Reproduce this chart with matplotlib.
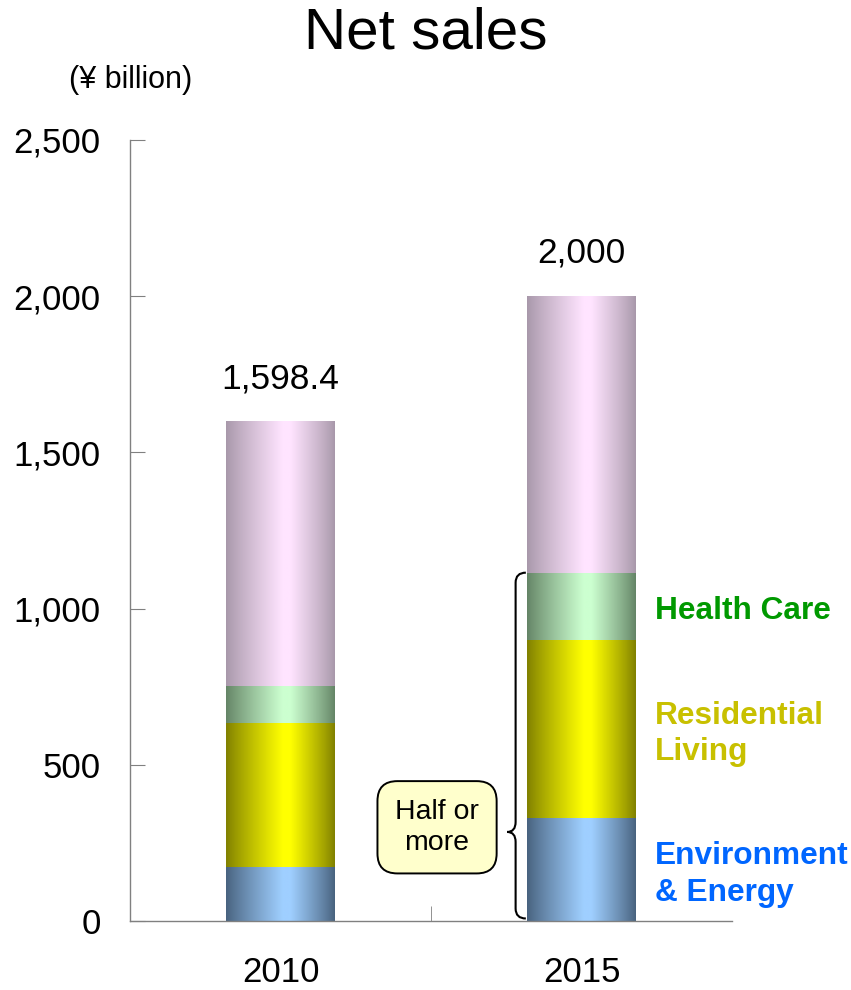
import numpy as np
import matplotlib.pyplot as plt
from matplotlib.path import Path
from matplotlib.patches import PathPatch
from matplotlib.colors import to_rgb

plt.rcParams['font.family'] = ['Liberation Sans', 'DejaVu Sans']

# Net sales by segment (yen billion)
years = ['2010', '2015']
env_energy = [173, 330]
residential = [461, 570]
health_care = [118, 215]
other = [846.4, 885]
totals = ['1,598.4', '2,000']

segments = [env_energy, residential, health_care, other]
# (light, dark) colours for the shaded cylinder look
seg_colors = [('#9FCFFF', '#48627E'),
              ('#FFFF00', '#808000'),
              ('#CCFFD0', '#648466'),
              ('#FFE4FF', '#A898AA')]

label_texts = ['Environment\n& Energy', 'Residential\nLiving', 'Health Care']
label_colors = ['#0066FF', '#C8C000', '#009900']

fig = plt.figure(figsize=(8.51, 9.9), dpi=100)
ax = fig.add_axes([0.1528, 0.0697, 0.7074, 0.7889])

bar_w = 0.362


def shade(light, dark, n=200, peak=0.56):
    t = np.linspace(0, 1, n)
    f = np.where(t < peak, t / peak, (1 - t) / (1 - peak))
    f = np.clip(f * 1.08, 0, 1) ** 0.9
    lo, hi = np.array(to_rgb(dark)), np.array(to_rgb(light))
    return (lo + (hi - lo) * f[:, None])[None, :, :]


x = np.arange(len(years))
bottoms = np.zeros(len(years))
for vals, (light, dark) in zip(segments, seg_colors):
    img = shade(light, dark)
    for i, v in enumerate(vals):
        ax.imshow(img, extent=[x[i] - bar_w / 2, x[i] + bar_w / 2, bottoms[i], bottoms[i] + v],
                  aspect='auto', interpolation='bilinear', zorder=2)
    bottoms += np.array(vals)

ax.set_xlim(-0.5, 1.5)
ax.set_ylim(0, 2500)

# totals above the bars
for i, t in enumerate(totals):
    ax.annotate(t, (x[i], bottoms[i]), xytext=(0, 31), textcoords='offset points',
                ha='center', va='center', fontsize=25.5)

# segment labels beside the 2015 bar
cum = np.cumsum([s[1] for s in segments])
starts = np.concatenate([[0], cum[:-1]])
for k in range(3):
    mid = (starts[k] + cum[k]) / 2
    ax.text(1.2425, mid - 16, label_texts[k], color=label_colors[k], fontsize=22.8,
            fontweight='bold', ha='left', va='center', linespacing=1.27)

# brace grouping the three core segments
top = cum[2]
bot = 8
tip = 285
xl, xt, xc = 0.781, 0.753, 0.815
r = 32
verts = [(xc, top), (xl, top), (xl, top - r),
         (xl, tip + r), (xl, tip), (xt, tip),
         (xl, tip), (xl, tip - r),
         (xl, bot + r), (xl, bot), (xc, bot)]
codes = [Path.MOVETO, Path.CURVE3, Path.CURVE3,
         Path.LINETO, Path.CURVE3, Path.CURVE3,
         Path.CURVE3, Path.CURVE3,
         Path.LINETO, Path.CURVE3, Path.CURVE3]
ax.add_patch(PathPatch(Path(verts, codes), fill=False, lw=1.5, ec='black', zorder=3))

ax.text(0.52, 300, 'Half or\nmore', ha='center', va='center', fontsize=20.5,
        linespacing=1.25,
        bbox=dict(boxstyle='round,pad=0.62,rounding_size=0.7', fc='#FFFFCC', ec='black', lw=1.4))

# axes styling
for s in ['top', 'right']:
    ax.spines[s].set_visible(False)
for s in ['left', 'bottom']:
    ax.spines[s].set_color('#808080')
    ax.spines[s].set_linewidth(1.0)

ax.set_yticks(np.arange(0, 2501, 500))
ax.set_yticklabels(['0', '500', '1,000', '1,500', '2,000', '2,500'])
ax.tick_params(axis='y', direction='in', length=11, color='#808080', labelsize=25, pad=21)

ax.set_xticks(x)
ax.set_xticklabels(years)
ax.tick_params(axis='x', which='major', length=0, labelsize=25, pad=25)
ax.set_xticks([0.5], minor=True)
ax.tick_params(axis='x', which='minor', direction='in', length=11, color='#808080')

fig.text(0.5, 0.966, 'Net sales', ha='center', va='center', fontsize=42)
fig.text(0.153, 0.919, '(¥ billion)', ha='center', va='center', fontsize=22)

fig.savefig('out.png', dpi=100)
